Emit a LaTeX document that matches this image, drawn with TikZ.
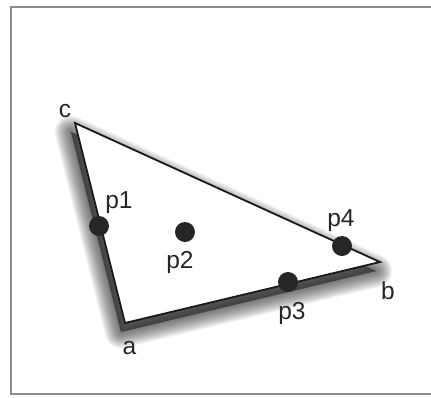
\documentclass[tikz,border=0pt]{standalone}
\usepackage{fontspec}
\setmainfont{Liberation Sans}
\usepackage{xcolor}
\usepackage{tikz}
\usetikzlibrary{calc}

\begin{document}
\begin{tikzpicture}[
  x=1pt, y=-1pt,
  font=\fontsize{24.5}{28}\selectfont,
  pt/.style={circle, fill=black!85, inner sep=0pt, minimum size=20pt},
  lab/.style={inner sep=0pt, anchor=base, text=black!85},
  edge/.style={draw=black!90, line width=1.8pt, line join=miter},
  shad/.style={fill=black!80!violet!90!green, draw=black!80!violet!90!green, opacity=0.075, line join=round},
]
\useasboundingbox (0,0) rectangle (431,397);
\clip (0,0) rectangle (431,397);

% frame
\draw[black!45, line width=1.6pt] (11,7) rectangle (440,394);

\coordinate (c) at (75,123);
\coordinate (b) at (380,262);
\coordinate (a) at (125,323);

% soft shadow
\foreach \w in {32,29,...,2}
  \path[shad, line width=\w pt] ($(a)+(-4,9)$) -- ($(b)+(-4,9)$) -- ($(c)+(-4,9)$) -- cycle;

\fill[white] (a) -- (b) -- (c) -- cycle;
\draw[edge] (a) -- (b) -- (c) -- cycle;

\node[pt] (p1) at (99,226) {};
\node[pt] (p2) at (185,232) {};
\node[pt] (p3) at (288,282) {};
\node[pt] (p4) at (342,246) {};

\node[lab] (lc) at (65,117) {c};
\node[lab] (la) at (129.5,354) {a};
\node[lab] (lb) at (388,299) {b};
\node[lab] (l1) at (119,208) {p1};
\node[lab] (l2) at (180,268) {p2};
\node[lab] (l3) at (292,319) {p3};
\node[lab] (l4) at (341,226) {p4};
\end{tikzpicture}
\end{document}
